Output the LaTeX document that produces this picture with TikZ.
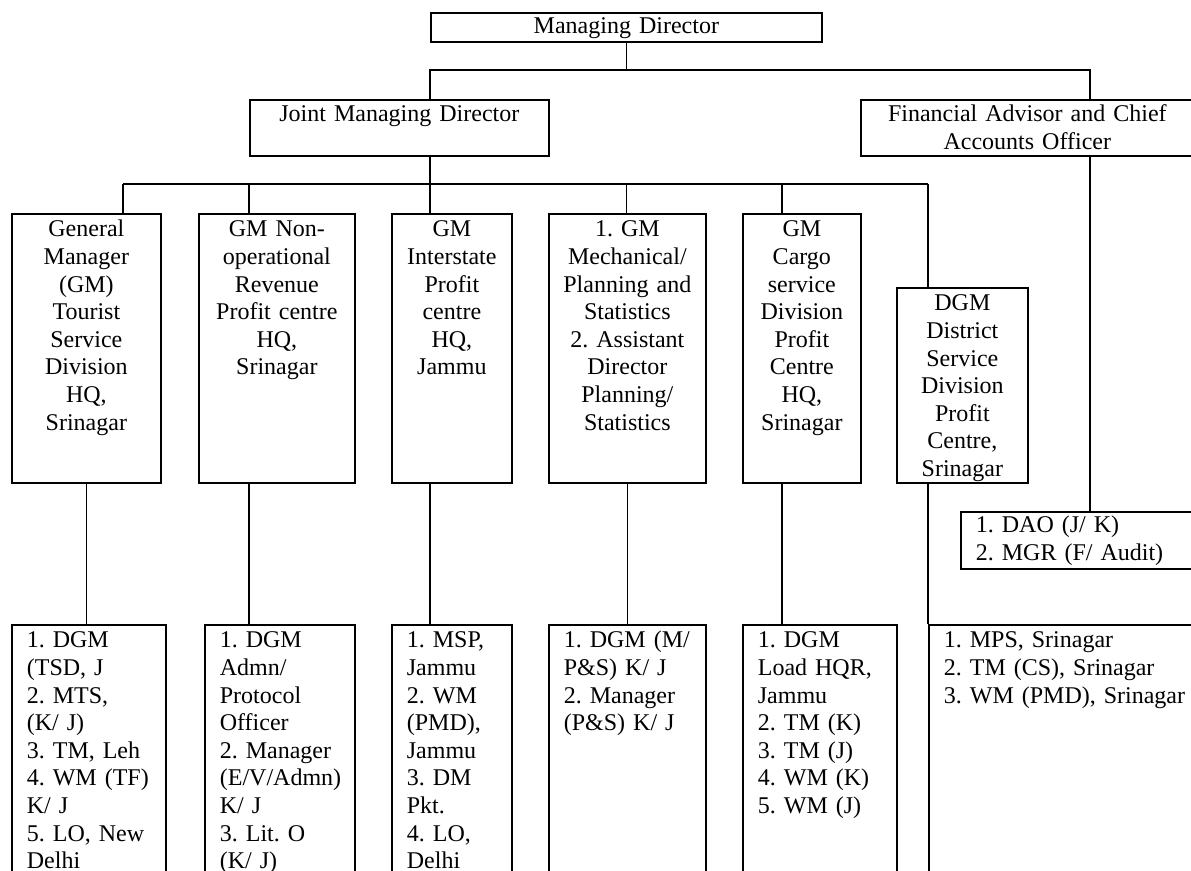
\documentclass[tikz,border=0pt]{standalone}
\usepackage{fontspec}
\setmainfont{Liberation Serif}
\begin{document}
\begin{tikzpicture}[x=0.5pt, y=-0.5pt,
  unit/.style={draw, line width=0.85pt, anchor=north west, inner ysep=0pt,
    font=\fontsize{12pt}{13.8pt}\selectfont\frenchspacing},
  mid/.style={unit, align=center, inner xsep=2pt},
  list/.style={unit, align=left, inner xsep=7.5pt},
  link/.style={line width=0.85pt}]
\useasboundingbox (0,0) rectangle (1191,871);
\clip (0,0) rectangle (1191,871);
% top level
\node[mid, text width=191.5pt, text height=10.5pt, text depth=4pt] (md) at (430,12) {Managing Director};
\node[mid, text width=145.5pt, text height=11pt, text depth=17pt] (jmd) at (249,99) {Joint Managing Director};
\node[mid, text width=162.5pt, text height=11pt, text depth=17pt] (fin) at (860,99) {Financial Advisor and Chief\\Accounts Officer};
% divisions
\node[mid, text width=70.5pt, text height=11.5pt, text depth=123pt] (div1) at (11,213) {General\\Manager\\(GM)\\Tourist\\Service\\Division\\HQ,\\Srinagar};
\node[mid, text width=74pt, text height=11.5pt, text depth=123pt] (div2) at (198,213) {GM Non-\\operational\\Revenue\\Profit centre\\HQ,\\Srinagar};
\node[mid, text width=56pt, text height=11.5pt, text depth=123pt] (div3) at (391,213) {GM\\Interstate\\Profit\\centre\\HQ,\\Jammu};
\node[mid, text width=74.5pt, text height=11.5pt, text depth=123pt] (div4) at (548,213) {1. GM\\Mechanical/\\Planning and\\Statistics\\2. Assistant\\Director\\Planning/\\Statistics};
\node[mid, text width=55pt, text height=11.5pt, text depth=123pt] (div5) at (742,213) {GM\\Cargo\\service\\Division\\Profit\\Centre\\HQ,\\Srinagar};
\node[mid, text width=61.5pt, text height=11.5pt, text depth=86pt] (div6) at (896,287) {DGM\\District\\Service\\Division\\Profit\\Centre,\\Srinagar};
\node[list, text width=105pt, text height=10.5pt, text depth=18pt] (acc) at (960,511) {1. DAO (J/ K)\\2. MGR (F/ Audit)};
% officers
\node[list, text width=62pt, text height=11.5pt, text depth=116.5pt] (sub1) at (11,624) {1. DGM\\(TSD, J\\2. MTS,\\(K/ J)\\3. TM, Leh\\4. WM (TF)\\K/ J\\5. LO, New\\Delhi};
\node[list, text width=60pt, text height=11.5pt, text depth=116.5pt] (sub2) at (204,624) {1. DGM\\Admn/\\Protocol\\Officer\\2. Manager\\(E/V/Admn)\\K/ J\\3. Lit. O\\(K/ J)};
\node[list, text width=45pt, text height=11.5pt, text depth=116.5pt] (sub3) at (391,624) {1. MSP,\\Jammu\\2. WM\\(PMD),\\Jammu\\3. DM\\Pkt.\\4. LO,\\Delhi};
\node[list, text width=63.5pt, text height=11.5pt, text depth=116.5pt] (sub4) at (548,624) {1. DGM (M/\\P\&S) K/ J\\2. Manager\\(P\&S) K/ J};
\node[list, text width=62pt, text height=11.5pt, text depth=116.5pt] (sub5) at (742,624) {1. DGM\\Load HQR,\\Jammu\\2. TM (K)\\3. TM (J)\\4. WM (K)\\5. WM (J)};
\node[list, text width=136pt, text height=11.5pt, text depth=116.5pt] (sub6) at (928,624) {1. MPS, Srinagar\\2. TM (CS), Srinagar\\3. WM (PMD), Srinagar};
% bus points
\coordinate (t1) at (430,70);
\coordinate (t2) at (1090,70);
\coordinate (d1) at (123,184);
\coordinate (d2) at (249,184);
\coordinate (d3) at (430,184);
\coordinate (d4) at (626.5,184);
\coordinate (d5) at (782,184);
\coordinate (d6) at (928,184);
% connectors
\draw[link] (md.south) -- (md.south |- t1);
\draw[link] (jmd.north -| t1) |- (t2) -- (fin.north -| t2);
\draw[link] (jmd.south -| d3) -- (d3);
\draw[link] (d1) -- (d6);
\foreach \i in {1,...,6}
  \draw[link] (d\i) -- (div\i.north -| d\i);
\draw[link] (div1.south) -- (sub1.north -| div1.south);
\draw[link] (div4.south) -- (sub4.north);
\foreach \i in {2,3,5,6}
  \draw[link] (div\i.south -| d\i) -- (sub\i.north -| d\i);
\draw[link] (fin.south -| t2) -- (acc.north -| t2);
\end{tikzpicture}
\end{document}
